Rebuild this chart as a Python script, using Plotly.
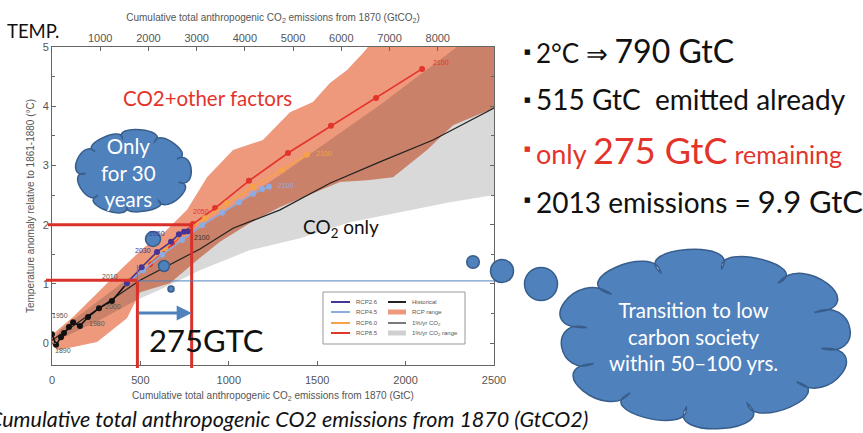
import math
import plotly.graph_objects as go

# ---------------- data (GtC, deg C) ----------------
hist_x = [0, 23, 51, 68, 96, 119, 158, 204, 266, 339, 424]
hist_y = [0.15, -0.03, 0.10, 0.17, 0.27, 0.35, 0.29, 0.44, 0.59, 0.71, 1.01]
hist_labels = ["1890", "1950", "1980", "2000", "2010"]
hist_label_x = [60, 45, 255, 345, 330]
hist_label_y = [-0.12, 0.47, 0.33, 0.62, 1.12]

pct_x = [0, 498, 837, 1024, 1290, 1572, 1855, 2155, 2500]
pct_y = [0.05, 1.06, 1.59, 1.94, 2.25, 2.70, 3.06, 3.43, 3.97]

rcp26_x = [424, 507, 594, 673, 718, 747, 769]
rcp26_y = [1.01, 1.28, 1.54, 1.71, 1.84, 1.88, 1.89]
rcp45_x = [424, 515, 622, 735, 848, 962, 1058, 1137, 1188, 1227]
rcp45_y = [1.01, 1.23, 1.49, 1.74, 1.99, 2.20, 2.38, 2.52, 2.60, 2.64]
rcp60_x = [424, 526, 639, 752, 865, 990, 1137, 1301, 1442]
rcp60_y = [1.01, 1.32, 1.60, 1.88, 2.11, 2.36, 2.64, 2.92, 3.18]
rcp85_x = [424, 554, 679, 797, 922, 1114, 1335, 1578, 1833, 2093]
rcp85_y = [1.01, 1.33, 1.67, 2.01, 2.28, 2.74, 3.21, 3.67, 4.14, 4.63]

rcp_range_x = [0, 119, 255, 402, 515, 639, 764, 877, 1024, 1193, 1346, 1476, 1572, 1669,
               1759, 1787, 2500, 2500, 2268, 2121, 1929, 1782, 1629, 1290, 1120, 950, 837,
               667, 498, 424, 255, 34, 0]
rcp_range_y = [0.14, 0.44, 0.84, 1.28, 1.60, 1.88, 2.25, 2.80, 3.26, 3.43, 3.90, 4.07, 4.39,
               4.61, 4.90, 5.0, 5.0, 3.97, 3.68, 3.26, 2.80, 2.75, 2.72, 2.30, 2.03, 1.71,
               1.44, 1.01, 0.86, 0.42, 0.02, -0.12, -0.03]

pct_up_x = [0, 45, 271, 554, 837, 1120, 1290, 1572, 1855, 2081, 2291, 2500]
pct_up_y = [0.0, 0.22, 0.73, 1.37, 1.99, 2.50, 2.84, 3.43, 4.02, 4.53, 5.0, 5.0]
pct_lo_x = [0, 271, 481, 611, 837, 1120, 1403, 1686, 1968, 2251, 2500]
pct_lo_y = [0.0, 0.39, 0.73, 0.90, 1.23, 1.57, 1.77, 2.04, 2.21, 2.38, 2.50]

top_ticks = [1000, 2000, 3000, 4000, 5000, 6000, 7000, 8000]
bottom_ticks = [0, 500, 1000, 1500, 2000, 2500]
y_ticks = [0, 1, 2, 3, 4, 5]

budget_2c = 790      # GtC for 2 deg C
emitted = 483        # position of "already emitted" marker line
temp_now = 1.06
temp_2c = 2.0

legend_names_left = ["RCP2.6", "RCP4.5", "RCP6.0", "RCP8.5"]
legend_names_right = ["Historical", "RCP range", "1%/yr CO<sub>2</sub>", "1%/yr CO<sub>2</sub> range"]

# ---------------- colours ----------------
C_26 = "rgb(72,52,150)"
C_45 = "rgb(140,172,226)"
C_60 = "rgb(245,162,72)"
C_85 = "rgb(228,52,42)"
C_SALMON = "rgb(238,152,124)"
C_GRAY = "rgba(0,0,0,0.15)"
C_BLUE = "#4F81BD"
C_BLUE_D = "#385D8A"
C_RED = "#D9302A"
AX = "#666666"

W, H = 863, 433
ML, MR, MT, MB = 52, 369, 47, 68
PW, PH = W - ML - MR, H - MT - MB
XR = (0, 2500)
YR = (-0.37, 5.0)


def px(x):
    return (x - ML) / PW


def py(y):
    return (H - MB - y) / PH


def dx(v):
    return (v - XR[0]) / (XR[1] - XR[0])


def dy(v):
    return (v - YR[0]) / (YR[1] - YR[0])


fig = go.Figure()

fig.add_trace(go.Scatter(x=rcp_range_x, y=rcp_range_y, fill="toself", fillcolor=C_SALMON,
                         mode="lines", line=dict(width=0), hoverinfo="skip", showlegend=False))
fig.add_trace(go.Scatter(x=pct_up_x + pct_lo_x[::-1], y=pct_up_y + pct_lo_y[::-1], fill="toself",
                         fillcolor=C_GRAY, mode="lines", line=dict(width=0), hoverinfo="skip",
                         showlegend=False))
fig.add_trace(go.Scatter(x=pct_x, y=pct_y, mode="lines", line=dict(color="#222", width=1.2),
                         showlegend=False))
fig.add_trace(go.Scatter(x=hist_x, y=hist_y, mode="lines+markers",
                         line=dict(color="#111", width=1.6), marker=dict(size=6, color="#111"),
                         showlegend=False))
for xs, ys, c in [(rcp85_x, rcp85_y, C_85), (rcp60_x, rcp60_y, C_60),
                  (rcp45_x, rcp45_y, C_45), (rcp26_x, rcp26_y, C_26)]:
    fig.add_trace(go.Scatter(x=xs, y=ys, mode="lines+markers", line=dict(color=c, width=1.6),
                             marker=dict(size=6, color=c), showlegend=False))
# top axis carrier
fig.add_trace(go.Scatter(x=[None], y=[None], xaxis="x2", showlegend=False))

shapes = []
annotations = []


def ann(text, x, y, size, color="#111", xanchor="left", yanchor="middle", family="Lato",
        align="left", **kw):
    annotations.append(dict(text=text, x=x, y=y, xref="paper", yref="paper", showarrow=False,
                            xanchor=xanchor, yanchor=yanchor, align=align,
                            font=dict(size=size, color=color, family=family), **kw))


# small year labels on curves
LF = "Liberation Sans"
for t, xv, yv in zip(hist_labels, hist_label_x, hist_label_y):
    ann(t, dx(xv), dy(yv), 7, "#555", "center", family=LF)
ann("2100", dx(rcp85_x[-1]) + 0.02, dy(rcp85_y[-1]) + 0.02, 7, C_85, "left", family=LF)
ann("2100", dx(rcp60_x[-1]) + 0.015, dy(rcp60_y[-1]) + 0.005, 7, C_60, "left", family=LF)
ann("2100", dx(rcp45_x[-1]) + 0.015, dy(rcp45_y[-1]) + 0.005, 7, C_45, "left", family=LF)
ann("2100", dx(rcp26_x[-1]) + 0.01, dy(rcp26_y[-1]) - 0.02, 7, "#333", "left", family=LF)
ann("2050", dx(rcp85_x[4]) - 0.01, dy(rcp85_y[4]) - 0.01, 7, C_85, "right", family=LF)
ann("2050", dx(rcp26_x[3]) - 0.01, dy(rcp26_y[3]) + 0.025, 7, C_26, "right", family=LF)
ann("2030", dx(rcp26_x[2]) - 0.01, dy(rcp26_y[2]) + 0.005, 7, C_26, "right", family=LF)

# ---- red and blue guide lines ----
shapes += [
    dict(type="line", xref="paper", yref="paper", x0=px(48), x1=dx(budget_2c), y0=dy(temp_2c), y1=dy(temp_2c),
         line=dict(color=C_RED, width=3)),
    dict(type="line", xref="paper", yref="paper", x0=dx(budget_2c), x1=dx(budget_2c), y0=dy(temp_2c), y1=py(368),
         line=dict(color=C_RED, width=3)),
    dict(type="line", xref="paper", yref="paper", x0=px(46), x1=dx(emitted), y0=dy(temp_now), y1=dy(temp_now),
         line=dict(color=C_RED, width=3)),
    dict(type="line", xref="paper", yref="paper", x0=dx(emitted), x1=dx(emitted), y0=dy(temp_now), y1=py(368),
         line=dict(color=C_RED, width=3)),
    dict(type="line", xref="paper", yref="paper", x0=dx(emitted), x1=px(500), y0=dy(1.05), y1=dy(1.05),
         line=dict(color=C_BLUE, width=1)),
    dict(type="line", xref="paper", yref="paper", x0=dx(emitted), x1=dx(emitted), y0=dy(1.05), y1=dy(1.32),
         line=dict(color=C_BLUE, width=1)),
]
annotations.append(dict(x=dx(budget_2c), y=py(313), xref="paper", yref="paper", text="",
                        showarrow=True, ax=-(dx(budget_2c) - dx(emitted)) * PW, ay=0,
                        arrowhead=2, arrowsize=1, arrowwidth=3, arrowcolor=C_BLUE, standoff=0))

# ---- manual legend ----
shapes.append(dict(type="rect", xref="paper", yref="paper", x0=px(323), x1=px(465), y0=py(292), y1=py(344),
                   line=dict(color="#999", width=1), fillcolor="white"))
rows = [302, 312, 323, 333]
for name, c, r in zip(legend_names_left, [C_26, C_45, C_60, C_85], rows):
    shapes.append(dict(type="line", xref="paper", yref="paper", x0=px(331), x1=px(350), y0=py(r), y1=py(r),
                       line=dict(color=c, width=2)))
    ann(name, px(354), py(r), 6, "#555", family=LF)
right_styles = [("line", "#222", 2), ("bar", C_SALMON, 5), ("line", "#222", 1.2), ("bar", "#d0d0d0", 5)]
for name, (kind, c, w), r in zip(legend_names_right, right_styles, rows):
    shapes.append(dict(type="line", xref="paper", yref="paper", x0=px(388), x1=px(406), y0=py(r), y1=py(r),
                       line=dict(color=c, width=w)))
    ann(name, px(410), py(r), 6, "#555", family=LF)


# ---- clouds ----
def cloud_path(cx, cy, rx, ry, lobes, phase=0.0, f=0.78, k=0.36):
    n = len(lobes)
    angs = [phase + 2 * math.pi * i / n for i in range(n)]
    P = [(cx + f * rx * math.cos(a), cy + f * ry * math.sin(a)) for a in angs]
    s = "M%.5f,%.5f" % (px(P[0][0]), py(P[0][1]))
    for i in range(n):
        j = (i + 1) % n
        a0 = angs[i]
        a1 = angs[i] + 2 * math.pi / n
        kk = k * lobes[i]
        c1 = (P[i][0] + kk * rx * math.cos(a0 - 0.25), P[i][1] + kk * ry * math.sin(a0 - 0.25))
        c2 = (P[j][0] + kk * rx * math.cos(a1 + 0.25), P[j][1] + kk * ry * math.sin(a1 + 0.25))
        s += " C%.5f,%.5f %.5f,%.5f %.5f,%.5f" % (px(c1[0]), py(c1[1]), px(c2[0]), py(c2[1]),
                                                    px(P[j][0]), py(P[j][1]))
    return s + " Z"


shapes.append(dict(type="path", xref="paper", yref="paper",
                   path=cloud_path(133, 172, 61, 44, [1.0, 0.8, 1.1, 0.9, 1.0, 0.85, 1.05, 0.9, 1.0], 0.3),
                   fillcolor=C_BLUE, line=dict(color=C_BLUE_D, width=1.5)))
shapes.append(dict(type="path", xref="paper", yref="paper",
                   path=cloud_path(704, 338, 152, 90,
                                   [1.0, 0.85, 1.1, 0.9, 1.0, 0.8, 1.05, 0.95, 1.0, 0.85, 1.1, 0.9], 0.15),
                   fillcolor=C_BLUE, line=dict(color=C_BLUE_D, width=1.5)))
for cxp, cyp, r in [(153, 239, 7.5), (164, 266, 5.5), (171, 289, 3), (473, 262, 6.3),
                    (502, 271, 11.5), (541, 284, 16.5)]:
    shapes.append(dict(type="circle", xref="paper", yref="paper", x0=px(cxp - r), x1=px(cxp + r),
                       y0=py(cyp + r), y1=py(cyp - r), fillcolor=C_BLUE,
                       line=dict(color=C_BLUE_D, width=1.5)))

# ---- slide texts ----
ann("Only<br>for 30<br>years", px(128), py(172), 20.5, "white", "center", align="center")
ann("Transition to low<br>carbon society<br>within 50–100 yrs.", px(693), py(336), 20.5, "white",
    "center", align="center")
ann("TEMP.", px(5), py(31), 18.5, "#111")
ann("CO2+other factors", px(121), py(98), 20.5, "#E3342B")
ann("CO<sub>2</sub> only", px(301), py(228), 19, "#111")
ann("275GTC", px(147), py(340), 31, "#111")
ann("<i>Cumulative total anthropogenic CO2 emissions from 1870 (GtCO2)</i>", px(590), py(419), 21.5,
    "#111", "right")

NB = "\u00a0"
for by, bc in [(50, "#111"), (98, "#111"), (147, "#E3342B"), (198, "#111")]:
    ann("■", px(527), py(by + 2), 7, bc, "center", family="DejaVu Sans")
ann("2°C ⇒ <span style='font-size:32px'>790 GtC</span>", px(534), py(50), 26, "#111")
ann("515 GtC" + NB + NB + "emitted already", px(534), py(99), 28, "#111")
ann("only <span style='font-size:36px'>275 GtC</span> <span style='font-size:25px'>remaining</span>",
    px(534), py(150), 27, "#E3342B")
ann("2013 emissions = <span style='font-size:31px'>9.9 GtC</span>", px(534), py(201), 28, "#111")

axis_common = dict(showline=True, linecolor=AX, linewidth=1, ticks="inside", tickcolor=AX,
                   ticklen=4, showgrid=False, zeroline=False, automargin=False,
                   tickfont=dict(family=LF, size=11, color="#555"))

fig.update_layout(
    width=W, height=H, margin=dict(l=ML, r=MR, t=MT, b=MB, autoexpand=False),
    paper_bgcolor="white", plot_bgcolor="white", showlegend=False,
    xaxis=dict(range=list(XR), tickvals=bottom_ticks, mirror=True, ticklabelstandoff=5,
               title=dict(text="Cumulative total anthropogenic CO<sub>2</sub> emissions from 1870 (GtC)",
                          font=dict(family=LF, size=10, color="#555"), standoff=6),
               **axis_common),
    xaxis2=dict(overlaying="x", side="top", range=[XR[0] * 44 / 12, XR[1] * 44 / 12], tickvals=top_ticks,
                title=dict(text="Cumulative total anthropogenic CO<sub>2</sub> emissions from 1870 (GtCO<sub>2</sub>)",
                           font=dict(family=LF, size=10, color="#555"), standoff=8),
                **axis_common),
    yaxis=dict(range=list(YR), tickvals=y_ticks, mirror="ticks",
               minor=dict(ticks="inside", dtick=0.5, ticklen=3, tickcolor=AX),
               title=dict(text="Temperature anomaly relative to 1861-1880 (°C)",
                          font=dict(family=LF, size=10, color="#555"), standoff=6),
               **axis_common),
    shapes=shapes, annotations=annotations,
)

fig.write_html("out.html", config={"displayModeBar": False},
               post_script="document.body.style.margin='0';document.body.style.overflow='hidden';")
